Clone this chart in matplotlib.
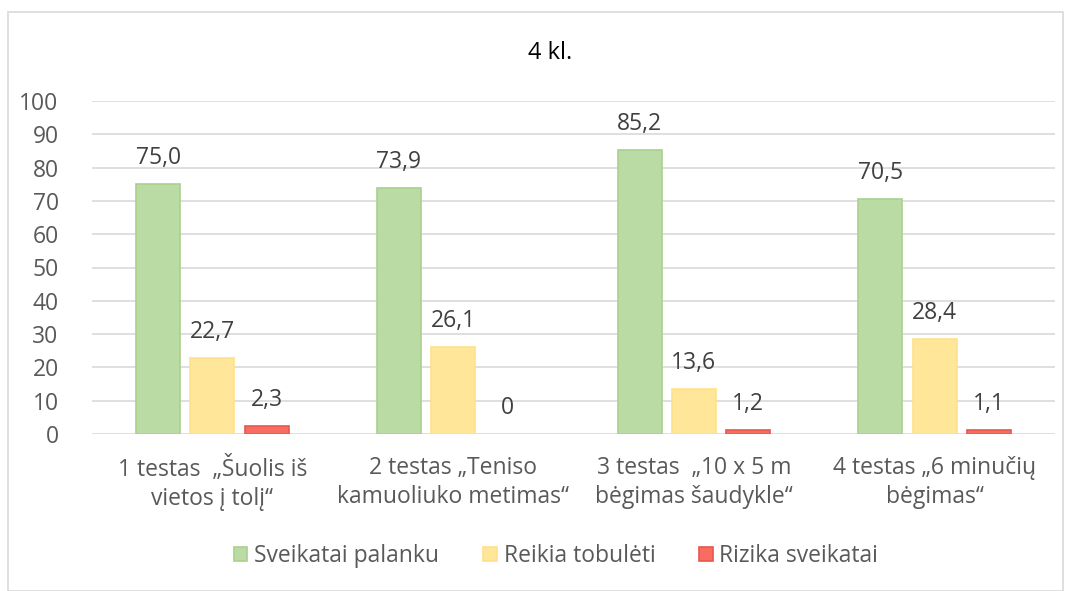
import matplotlib
matplotlib.use("Agg")
import matplotlib.pyplot as plt
import numpy as np
from matplotlib.patches import Rectangle

categories = ["1 testas  „Šuolis iš\nvietos į tolį“",
              "2 testas „Teniso\nkamuoliuko metimas“",
              "3 testas  „10 x 5 m\nbėgimas šaudykle“",
              "4 testas „6 minučių\nbėgimas“"]
series_names = ["Sveikatai palanku", "Reikia tobulėti", "Rizika sveikatai"]
sveikatai = [75.0, 73.9, 85.2, 70.5]
reikia = [22.7, 26.1, 13.6, 28.4]
rizika = [2.3, 0, 1.2, 1.1]
labels_sv = ["75,0", "73,9", "85,2", "70,5"]
labels_re = ["22,7", "26,1", "13,6", "28,4"]
labels_ri = ["2,3", "0", "1,2", "1,1"]
yticks = [0, 10, 20, 30, 40, 50, 60, 70, 80, 90, 100]

plt.rcParams['font.family'] = ['Open Sans', 'DejaVu Sans']
W, H = 1071, 591
fig = plt.figure(figsize=(W/100, H/100), dpi=100)
ax = fig.add_axes([92/W, 1-434/H, (1055-92)/W, (434-101)/H])

txt = '#595959'
faces = ['#BBDBA4', '#FFE699', '#F86C62']
edges = ['#A9D18E', '#FFE08A', '#E8574E']
fs = 16.5
x = np.arange(len(categories))
bw = 0.183
step = 0.225
for i, (vals, labs) in enumerate([(sveikatai, labels_sv), (reikia, labels_re), (rizika, labels_ri)]):
    xs = x + (i - 1) * step
    ax.bar(xs, vals, width=bw, color=faces[i], edgecolor=edges[i],
           linewidth=[1.2 if v > 0 else 0 for v in vals],
           label=series_names[i], zorder=3)
    for xx, v, l in zip(xs, vals, labs):
        ax.text(xx, v + 4.2, l, ha='center', va='bottom', fontsize=fs, color='#404040')

ax.set_xlim(-0.5, 3.5)
ax.set_ylim(0, 100)
ax.set_yticks(yticks)
ax.set_yticklabels([str(t) for t in yticks], fontsize=fs, color=txt)
ax.set_xticks(x)
ax.set_xticklabels(categories, fontsize=fs, color=txt, linespacing=1.25)
ax.tick_params(axis='both', length=0)
ax.tick_params(axis='x', pad=16)
ax.tick_params(axis='y', pad=24)
for s in ax.spines.values():
    s.set_visible(False)
ax.grid(axis='y', color='#D9D9D9', linewidth=1.2, zorder=0)
ax.set_axisbelow(True)

fig.text(550/W, 1-53/H, "4 kl.", ha='center', va='center', fontsize=17, color='black')

fig.legend(loc='center', bbox_to_anchor=(556/W, 1-556/H), ncol=3, frameon=False,
           fontsize=fs, labelcolor=txt, handlelength=0.6, handleheight=0.6,
           handletextpad=0.3, columnspacing=1.9)

fig.patches.append(Rectangle((8/W, 0), (1063-8)/W, (H-12)/H, transform=fig.transFigure,
                             fill=False, edgecolor='#D9D9D9', linewidth=1.2))

fig.savefig("out.png", dpi=100)
